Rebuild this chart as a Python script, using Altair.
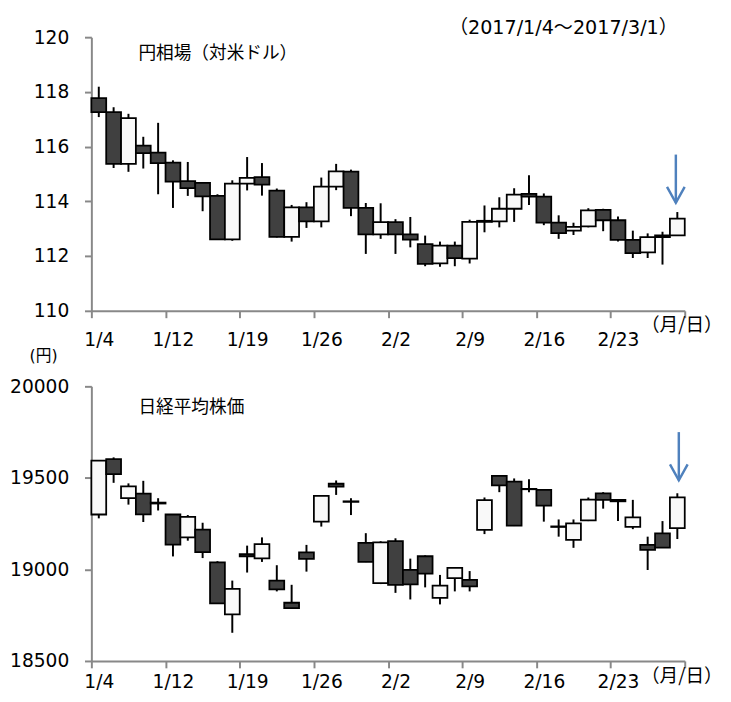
import altair as alt
import pandas as pd

# ---------------- data ----------------
dates = ["1/4", "1/5", "1/6", "1/10", "1/11", "1/12", "1/13", "1/16", "1/17", "1/18",
         "1/19", "1/20", "1/23", "1/24", "1/25", "1/26", "1/27", "1/30", "1/31", "2/1",
         "2/2", "2/3", "2/6", "2/7", "2/8", "2/9", "2/10", "2/13", "2/14", "2/15",
         "2/16", "2/17", "2/20", "2/21", "2/22", "2/23", "2/24", "2/27", "2/28", "3/1"]

usd_open = [117.77, 117.26, 115.37, 116.04, 115.78, 115.42, 114.74, 114.68, 114.20, 112.61,
            114.65, 114.89, 114.39, 112.70, 113.78, 113.27, 114.54, 115.09, 113.76, 112.79,
            113.24, 112.79, 112.44, 111.73, 112.38, 111.91, 113.25, 113.27, 113.73, 114.27,
            114.17, 113.22, 112.93, 113.09, 113.69, 113.31, 112.59, 112.14, 112.76, 112.76]
usd_high = [118.19, 117.44, 117.20, 116.36, 116.87, 115.50, 115.44, 114.70, 114.26, 114.77,
            115.62, 115.40, 114.47, 113.87, 113.97, 114.87, 115.37, 115.16, 113.94, 113.93,
            113.35, 113.43, 112.75, 112.53, 112.53, 113.33, 113.85, 114.15, 114.48, 114.95,
            114.29, 113.49, 113.22, 113.75, 113.73, 113.45, 112.93, 112.83, 112.89, 113.61]
usd_low = [117.08, 115.22, 115.08, 115.20, 114.26, 113.76, 114.20, 113.64, 112.60, 112.56,
           114.40, 114.21, 112.68, 112.53, 113.03, 113.05, 114.41, 113.46, 112.08, 112.63,
           112.08, 112.32, 111.63, 111.61, 111.63, 111.73, 112.87, 113.05, 113.25, 113.87,
           113.13, 112.63, 112.77, 113.05, 112.91, 112.53, 111.93, 111.93, 111.69, 112.76]
usd_close = [117.26, 115.37, 117.04, 115.76, 115.40, 114.72, 114.48, 114.18, 112.61, 114.65,
             114.86, 114.61, 112.70, 113.78, 113.27, 114.54, 115.10, 113.76, 112.79, 113.24,
             112.79, 112.60, 111.72, 112.38, 111.93, 113.25, 113.29, 113.73, 114.25, 114.17,
             113.22, 112.84, 113.07, 113.67, 113.31, 112.59, 112.11, 112.69, 112.69, 113.37]

nk_open = [19300, 19603, 19389, 19414, 19360, 19300, 19175, 19218, 19039, 18754,
           19083, 19061, 18939, 18818, 19093, 19261, 19468, 19372, 19145, 18925,
           19154, 18997, 19072, 18845, 18952, 18943, 19216, 19511, 19479, 19440,
           19434, 19232, 19161, 19268, 19416, 19380, 19232, 19134, 19197, 19225]
nk_high = [19595, 19612, 19470, 19484, 19389, 19302, 19297, 19255, 19045, 18939,
           19130, 19175, 19023, 18916, 19134, 19403, 19486, 19389, 19198, 19154,
           19170, 19059, 19077, 18970, 19010, 18991, 19393, 19514, 19497, 19493,
           19439, 19273, 19273, 19393, 19422, 19382, 19380, 19179, 19264, 19416]
nk_low = [19279, 19473, 19354, 19259, 19322, 19071, 19157, 19062, 18813, 18654,
          18983, 19041, 18880, 18786, 18988, 19234, 19407, 19297, 19040, 18920,
          18872, 18836, 18902, 18809, 18880, 18880, 19193, 19422, 19237, 19422,
          19261, 19179, 19118, 19264, 19332, 19264, 19220, 18997, 19118, 19166]
nk_close = [19594, 19520, 19454, 19301, 19365, 19135, 19287, 19095, 18814, 18894,
            19072, 19138, 18891, 18788, 19058, 19402, 19452, 19369, 19041, 19148,
            18915, 18918, 18977, 18911, 19008, 18908, 19379, 19459, 19239, 19438,
            19348, 19235, 19251, 19381, 19380, 19372, 19284, 19107, 19119, 19394]

tick_labels = dates[::5]          # 1/4, 1/12, ... 2/23

usd_arrow = [115.71, 113.95]      # arrow start / tip (yen)
nk_arrow = [19750, 19487]         # arrow start / tip (yen)
arrow_pos = [39.4, 39.6]          # position along the date axis (category index)

usd_title = "円相場（対米ドル）"
nk_title = "日経平均株価"
period = "（2017/1/4〜2017/3/1）"
unit_x = "（月/日）"
unit_y = "(円)"

# ---------------- styles ----------------
DARK = "#404040"
LIGHT = "#f9f9f9"
GRAY = "#888888"
ARROW = "#4f81bd"
NUM_FONT = "DejaVu Sans, Noto Sans CJK JP"
JP_FONT = "Noto Sans CJK JP"
W = 605


def frame(o, h, l, c):
    rows = []
    for i, d in enumerate(dates):
        rows.append(dict(date=d, x0=i, x1=i + 1, xc=i + 0.5,
                         open=o[i], high=h[i], low=l[i], close=c[i],
                         lo=min(o[i], c[i]), hi=max(o[i], c[i]),
                         fill=DARK if c[i] < o[i] else LIGHT))
    return pd.DataFrame(rows)


label_expr = "[" + ",".join("'%s'" % t for t in tick_labels) + ",''][round(datum.value/5)]"


def panel(df, ydom, ystep, height, xpad, arrow_y, ax, texts):
    xs = alt.Scale(domain=[0, 40], nice=False, zero=False)
    ys = alt.Scale(domain=ydom, nice=False, zero=False)
    xaxis = alt.Axis(values=list(range(0, 41, 5)), labelExpr=label_expr, title=None,
                     tickSize=7, labelPadding=xpad, labelOffset=7.6, labelFlush=False,
                     labelOverlap=False, labelFont=NUM_FONT, labelFontSize=19,
                     labelColor="black", domainColor=GRAY, tickColor=GRAY,
                     domainWidth=2, tickWidth=2, grid=False)
    yvals = list(range(int(ydom[0] * 100), int(ydom[1] * 100) + 1, int(ystep * 100)))
    yvals = [v / 100 for v in yvals]
    yaxis = alt.Axis(values=yvals, format="d", title=None, tickSize=7, labelPadding=16,
                     labelFont=NUM_FONT, labelFontSize=19, labelColor="black",
                     domainColor=GRAY, tickColor=GRAY, domainWidth=2, tickWidth=2,
                     grid=False)
    base = alt.Chart(df)
    wick = base.mark_rule(color="black", strokeWidth=2).encode(
        x=alt.X("xc:Q", scale=xs, axis=xaxis),
        y=alt.Y("low:Q", scale=ys, axis=yaxis),
        y2="high:Q",
    )
    body = base.mark_rect(stroke="black", strokeWidth=1.8).encode(
        x=alt.X("x0:Q", scale=xs), x2="x1:Q",
        y=alt.Y("lo:Q", scale=ys), y2="hi:Q",
        fill=alt.Fill("fill:N", scale=None),
    )
    adf = pd.DataFrame({"x": [ax], "y1": [arrow_y[0]], "y2": [arrow_y[1]]})
    shaft = alt.Chart(adf).mark_rule(color=ARROW, strokeWidth=2.5).encode(
        x=alt.X("x:Q", scale=xs), y=alt.Y("y1:Q", scale=ys), y2="y2:Q")
    head = alt.Chart(adf).mark_point(shape="M-1,-1.8L0,0L1,-1.8", filled=False, size=324,
                                      strokeWidth=2.5, color=ARROW, opacity=1).encode(
        x=alt.X("x:Q", scale=xs), y=alt.Y("y2:Q", scale=ys))
    layers = [wick, body, shaft, head]
    for (txt, px, py, size, font, align) in texts:
        layers.append(
            alt.Chart(pd.DataFrame({"t": [txt]})).mark_text(
                font=font, fontSize=size, align=align, baseline="middle", color="black"
            ).encode(text="t:N", x=alt.value(px), y=alt.value(py))
        )
    return alt.layer(*layers).properties(width=W, height=height)


top_texts = [
    (usd_title, 48, 17, 18, JP_FONT, "left"),
    (period, 598, -9, 19.5, NUM_FONT, "right"),
    (unit_x, 602, 294, 19, JP_FONT, "center"),
]
bot_texts = [
    (nk_title, 48, 22, 18, JP_FONT, "left"),
    (unit_y, -63, -31, 16, NUM_FONT, "left"),
    (unit_x, 602, 295, 19, JP_FONT, "center"),
]

top = panel(frame(usd_open, usd_high, usd_low, usd_close), [110, 120], 2, 279, 13,
            usd_arrow, arrow_pos[0], top_texts)
anchor = alt.Chart(pd.DataFrame({"a": [0]})).mark_point(size=1, opacity=0, filled=True).encode(
    x=alt.value(-84), y=alt.value(-22))
top = alt.layer(top, anchor)

bottom = panel(frame(nk_open, nk_high, nk_low, nk_close), [18500, 20000], 500, 280, 5,
               nk_arrow, arrow_pos[1], bot_texts)

chart = alt.vconcat(top, bottom, spacing=77, bounds="flush").properties(
    padding=0, background="white"
).configure_view(strokeWidth=0)

chart.save("out.html", embed_options={"renderer": "svg", "actions": False})
